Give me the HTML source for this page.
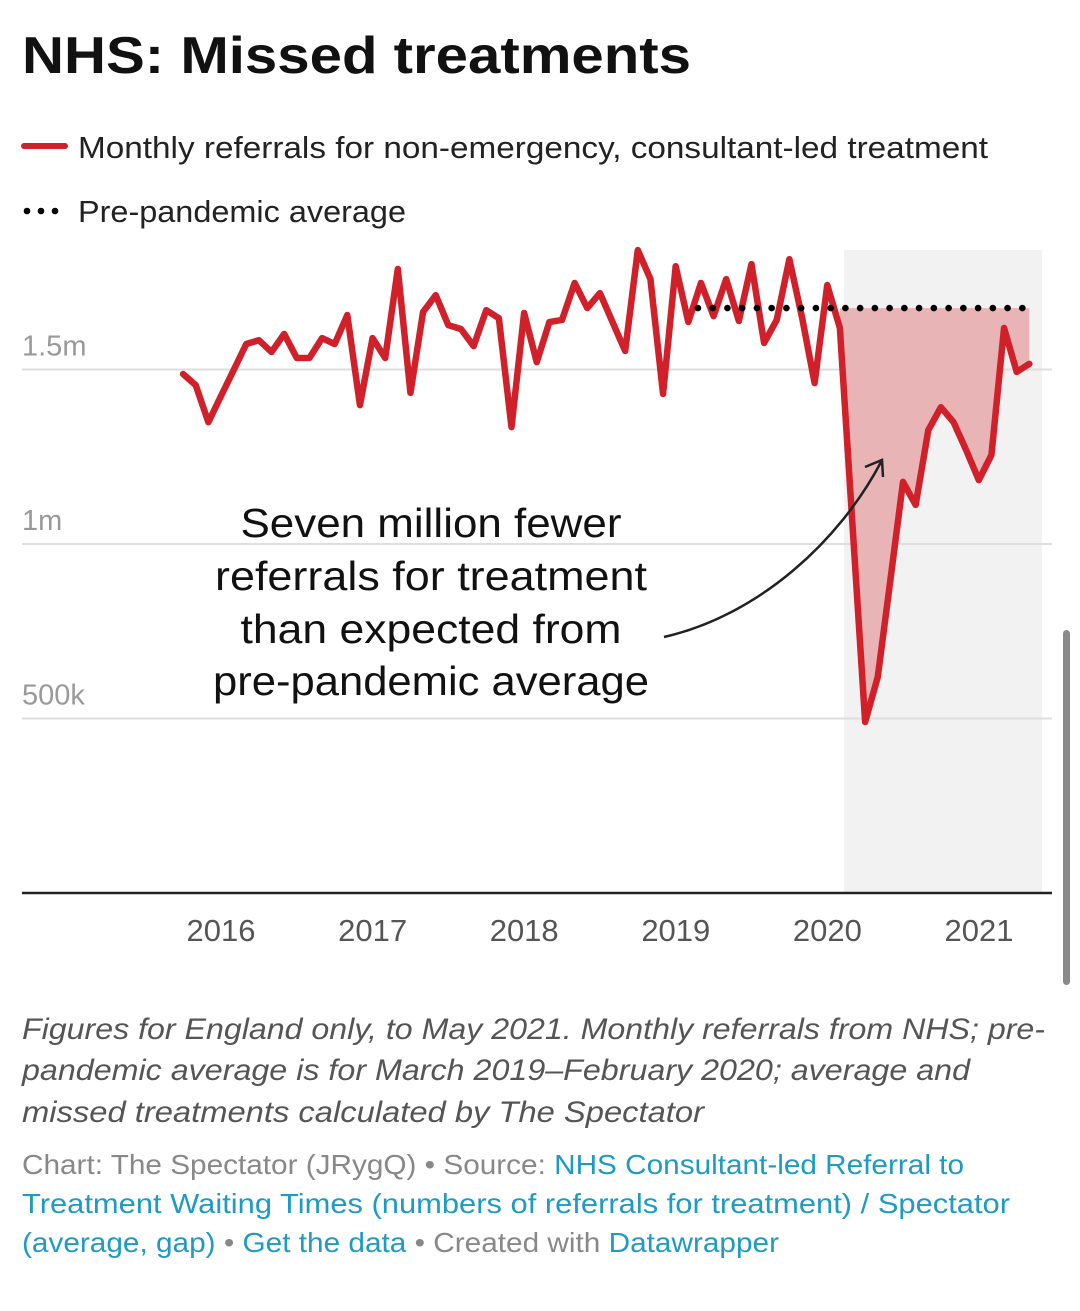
<!DOCTYPE html>
<html><head><meta charset="utf-8"><style>
html,body{margin:0;padding:0;background:#fff;}
svg{display:block;font-family:"Liberation Sans",sans-serif;}
</style></head><body>
<svg id="chart" width="1080" height="1311" viewBox="0 0 1080 1311">
<text x="22" y="73" font-size="52" font-weight="bold" fill="#111" textLength="669" lengthAdjust="spacingAndGlyphs">NHS: Missed treatments</text>
<g>
<line x1="24" y1="146" x2="65" y2="146" stroke="#d0202a" stroke-width="6" stroke-linecap="round"/>
<text x="78" y="158" font-size="31" fill="#222" textLength="910" lengthAdjust="spacingAndGlyphs">Monthly referrals for non-emergency, consultant-led treatment</text>
<g><circle cx="27" cy="211" r="3.3" fill="#000"/><circle cx="41" cy="211" r="3.3" fill="#000"/><circle cx="55" cy="211" r="3.3" fill="#000"/></g>
<text x="78" y="222" font-size="31" fill="#222" textLength="328" lengthAdjust="spacingAndGlyphs">Pre-pandemic average</text>
</g>
<rect x="844" y="250" width="198" height="643" fill="#f2f2f2"/>
<g id="grid"></g>
<g id="marks"></g>
<line x1="22" y1="893" x2="1052" y2="893" stroke="#222" stroke-width="2.5"/>
<g id="xlabels"></g>
<g font-size="41" fill="#111" text-anchor="middle">
<text x="431" y="537" textLength="381" lengthAdjust="spacingAndGlyphs">Seven million fewer</text>
<text x="431" y="590" textLength="432" lengthAdjust="spacingAndGlyphs">referrals for treatment</text>
<text x="431" y="643" textLength="381" lengthAdjust="spacingAndGlyphs">than expected from</text>
<text x="431" y="695" textLength="436" lengthAdjust="spacingAndGlyphs">pre-pandemic average</text>
</g>
<path d="M664,637 C760,615 840,540 881,462" fill="none" stroke="#222" stroke-width="2.5"/>
<path d="M865,467 L882,460 L883,477" fill="none" stroke="#222" stroke-width="2.5"/>
<g font-size="30" font-style="italic" fill="#555">
<text x="22" y="1039" textLength="1023" lengthAdjust="spacingAndGlyphs">Figures for England only, to May 2021. Monthly referrals from NHS; pre-</text>
<text x="22" y="1080" textLength="948" lengthAdjust="spacingAndGlyphs">pandemic average is for March 2019–February 2020; average and</text>
<text x="22" y="1122" textLength="682" lengthAdjust="spacingAndGlyphs">missed treatments calculated by The Spectator</text>
</g>
<g font-size="28" fill="#888">
<text x="22" y="1174" textLength="942" lengthAdjust="spacingAndGlyphs">Chart: The Spectator (JRygQ) • Source: <tspan fill="#1f9bc2">NHS Consultant-led Referral to</tspan></text>
<text x="22" y="1213" fill="#1f9bc2" textLength="988" lengthAdjust="spacingAndGlyphs">Treatment Waiting Times (numbers of referrals for treatment) / Spectator</text>
<text x="22" y="1252" textLength="757" lengthAdjust="spacingAndGlyphs"><tspan fill="#1f9bc2">(average, gap)</tspan> • <tspan fill="#1f9bc2">Get the data</tspan> • Created with <tspan fill="#1f9bc2">Datawrapper</tspan></text>
</g>
<rect x="1063" y="630" width="7" height="355" rx="3.5" fill="#8a8a8a"/>
</svg>
<script>
const values = [1487,1455,1349,1424,1498,1573,1584,1550,1602,1533,1533,1590,1573,1656,1398,1590,1533,1788,1433,1665,1713,1627,1616,1567,1670,1647,1335,1662,1521,1636,1642,1748,1676,1719,1636,1553,1842,1759,1430,1796,1636,1748,1653,1759,1639,1802,1576,1642,1816,1650,1461,1742,1619,1054,490,619,897,1178,1112,1326,1392,1349,1269,1183,1255,1619,1493,1516];
const averageValue = 1676;
const averageStartIndex = 41; // Mar 2019
const gapStartIndex = 52; // Feb 2020
const yTicks = [500, 1000, 1500];
const yTickLabels = ["500k", "1m", "1.5m"];
const xYears = [2016, 2017, 2018, 2019, 2020, 2021];

const NS = "http://www.w3.org/2000/svg";
function x(i){ return 221 + (i - 3) * 12.63; }
function xYear(yr){ return 221 + (yr - 2016) * 151.6; }
function y(v){ return 893 - v * 0.349; }
function mk(tag, attrs, parent){ const e = document.createElementNS(NS, tag); for (const k in attrs) e.setAttribute(k, attrs[k]); parent.appendChild(e); return e; }

const grid = document.getElementById('grid');
yTicks.forEach((t, k) => {
  const l = mk('line', {x1:22, x2:1052, y1:y(t), y2:y(t), stroke:'#dedede', 'stroke-width':2}, grid);
  
  
  const tx = mk('text', {x:22, y:y(t) - 14, 'font-size':29, fill:'#999'}, grid);
  tx.textContent = yTickLabels[k];
  
  
});

const xl = document.getElementById('xlabels');
xYears.forEach(yr => {
  const tx = mk('text', {x:xYear(yr), y:941, 'font-size':31, fill:'#555', 'text-anchor':'middle'}, xl);
  tx.textContent = yr;
  
  
});

const marks = document.getElementById('marks');
let d = 'M' + x(gapStartIndex) + ',' + y(averageValue);
for (let i = gapStartIndex; i < values.length; i++) d += ' L' + x(i) + ',' + y(values[i]);
d += ' L' + x(values.length - 1) + ',' + y(averageValue) + ' Z';
const gap = mk('path', {d:d, fill:'#e8b4b6'}, marks);



const pts = values.map((v, i) => x(i) + ',' + y(v)).join(' ');
const line = mk('polyline', {points:pts, fill:'none', stroke:'#d0202a', 'stroke-width':6.5, 'stroke-linejoin':'round', 'stroke-linecap':'round'}, marks);



const x0 = x(averageStartIndex) - 3, x1 = x(values.length - 1) - 7;
const n = Math.round((x1 - x0) / 14.6);
for (let k = 0; k <= n; k++) {
  const c = mk('circle', {cx: x0 + (x1 - x0) * k / n, cy: y(averageValue), r: 3.3, fill: '#000'}, marks);
  
  
}
</script>
</body></html>
